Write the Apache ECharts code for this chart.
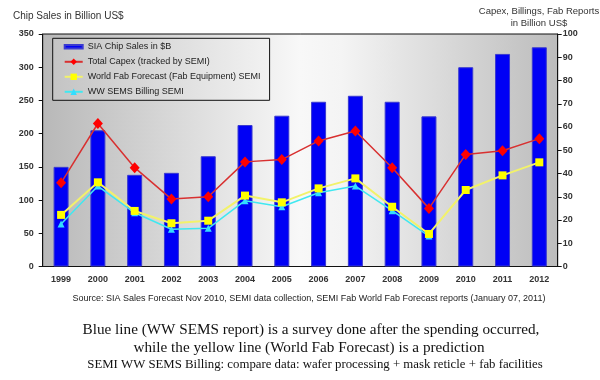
<!DOCTYPE html>
<html>
<head>
<meta charset="utf-8">
<script src="https://cdn.jsdelivr.net/npm/echarts@6/dist/echarts.min.js"></script>
<style>html,body{margin:0;padding:0;background:#fff}#c{width:600px;height:380px}</style>
</head>
<body>
<div id="c"></div>
<script>
const years = ['1999','2000','2001','2002','2003','2004','2005','2006','2007','2008','2009','2010','2011','2012'];
const chipSales = [150, 205, 138, 141, 166, 213, 227, 248, 257, 248, 226, 300, 320, 330];
const totalCapex = [36, 61.5, 42.5, 29, 30, 45, 46, 54, 58.3, 42.5, 25, 48.2, 49.8, 55];
const fabForecast = [22.2, 36.2, 23.9, 18.6, 19.7, 30.5, 27.6, 33.6, 37.9, 25.7, 14, 32.9, 39.2, 44.8];
const semsBilling = [18.3, 34.6, 23.1, 16, 16.4, 28.3, 25.7, 31.7, 34.6, 24, 13.1, null, null, null];
const leftTicks = {min: 0, max: 350, interval: 50};
const rightTicks = {min: 0, max: 100, interval: 10};
const names = ['SIA Chip Sales in $B', 'Total Capex (tracked by SEMI)', 'World Fab Forecast (Fab Equipment) SEMI', 'WW SEMS Billing SEMI'];

const chart = echarts.init(document.getElementById('c'), null, {renderer: 'canvas'});
const G = echarts.graphic.LinearGradient;
const axisFont = {fontFamily: 'Liberation Sans, Arial, sans-serif', fontSize: 9, fontWeight: 'bold', color: '#333'};
const serif = 'Liberation Serif, Times New Roman, serif';
chart.setOption({
  animation: false,
  title: [
    {text: 'Chip Sales in Billion US$', left: 8, top: 6, textStyle: {fontFamily: 'Liberation Sans, Arial', fontSize: 10, fontWeight: 'normal', color: '#333'}},
    {text: 'Capex, Billings, Fab Reports\nin Billion US$', left: 534, top: 0, textAlign: 'center', textStyle: {fontFamily: 'Liberation Sans, Arial', fontSize: 9.5, fontWeight: 'normal', color: '#333', lineHeight: 12.5, align: 'center'}},
    {text: 'Source: SIA Sales Forecast Nov 2010, SEMI data collection, SEMI Fab World Fab Forecast reports (January 07, 2011)', left: 304, top: 289, textAlign: 'center', textStyle: {fontFamily: 'Liberation Sans, Arial', fontSize: 9, fontWeight: 'normal', color: '#222'}},
    {text: 'Blue line (WW SEMS report) is a survey done after the spending occurred,', left: 306, top: 318, textAlign: 'center', textStyle: {fontFamily: serif, fontSize: 15.2, fontWeight: 'normal', color: '#111'}},
    {text: 'while the yellow line (World Fab Forecast) is a prediction', left: 304, top: 336, textAlign: 'center', textStyle: {fontFamily: serif, fontSize: 15.2, fontWeight: 'normal', color: '#111'}},
    {text: 'SEMI WW SEMS Billing: compare data: wafer processing + mask reticle + fab facilities', left: 310, top: 353, textAlign: 'center', textStyle: {fontFamily: serif, fontSize: 12.8, fontWeight: 'normal', color: '#111'}}
  ],
  legend: {
    orient: 'vertical', left: 52.7, top: 38.3,
    padding: [4, 9, 4, 11], itemGap: 6, itemWidth: 18, itemHeight: 8,
    backgroundColor: new G(0, 0, 1, 0, [{offset: 0, color: '#c4c4c4'}, {offset: 1, color: '#f2f2f2'}]),
    borderColor: '#111', borderWidth: 1,
    textStyle: {fontFamily: 'Liberation Sans, Arial', fontSize: 9, color: '#222'},
    data: [
      {name: names[0], icon: 'path://M0,0h20v4h-20z'},
      {name: names[1]}, {name: names[2]}, {name: names[3]}
    ]
  },
  grid: {
    left: 42.7, right: 42.3, top: 34, bottom: 113.5,
    show: true, borderColor: '#111', borderWidth: 1,
    backgroundColor: new G(0, 0, 1, 0, [{offset: 0, color: '#b8b8b8'}, {offset: 0.5, color: '#f8f8f8'}, {offset: 0.58, color: '#f4f4f4'}, {offset: 1, color: '#bcbcbc'}])
  },
  xAxis: {
    type: 'category', data: years, boundaryGap: true,
    axisLine: {lineStyle: {color: '#111'}},
    axisTick: {length: 4, lineStyle: {color: '#111'}},
    axisLabel: Object.assign({margin: 9}, axisFont)
  },
  yAxis: [
    {type: 'value', min: leftTicks.min, max: leftTicks.max, interval: leftTicks.interval,
     axisLine: {show: true, lineStyle: {color: '#111'}},
     axisTick: {show: true, length: 4, lineStyle: {color: '#111'}},
     splitLine: {show: false},
     axisLabel: Object.assign({margin: 9}, axisFont)},
    {type: 'value', min: rightTicks.min, max: rightTicks.max, interval: rightTicks.interval, position: 'right',
     axisLine: {show: true, lineStyle: {color: '#111'}},
     axisTick: {show: true, length: 4, lineStyle: {color: '#111'}},
     splitLine: {show: false},
     axisLabel: Object.assign({margin: 5}, axisFont)}
  ],
  series: [
    {name: names[0], type: 'bar', data: chipSales, yAxisIndex: 0, barWidth: 15,
     itemStyle: {color: '#0000f5', borderColor: '#3a3ad0', borderWidth: 1}, z: 2},
    {name: names[1], type: 'line', data: totalCapex, yAxisIndex: 1, symbol: 'diamond', symbolSize: [10, 11],
     lineStyle: {color: '#d83030', width: 1.5}, itemStyle: {color: '#ff0000'}, z: 5},
    {name: names[2], type: 'line', data: fabForecast, yAxisIndex: 1, symbol: 'rect', symbolSize: 8,
     lineStyle: {color: '#f2f26a', width: 2}, itemStyle: {color: '#ffff00'}, z: 4},
    {name: names[3], type: 'line', data: semsBilling, yAxisIndex: 1, symbol: 'triangle', symbolSize: 7,
     lineStyle: {color: '#40e8f0', width: 1.5}, itemStyle: {color: '#33ddff'}, z: 3}
  ]
});
</script>
</body>
</html>
